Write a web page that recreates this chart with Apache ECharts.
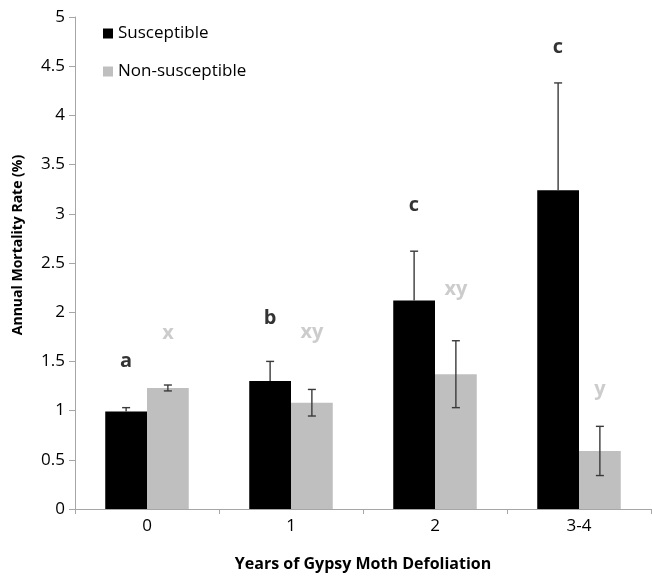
<!DOCTYPE html>
<html>
<head>
<meta charset="utf-8">
<script src="https://cdn.jsdelivr.net/npm/echarts@6/dist/echarts.min.js"></script>
<style>
html,body{margin:0;padding:0;background:#fff;}
#chart{width:652px;height:579px;}
</style>
</head>
<body>
<div id="chart"></div>
<script>
const categories = ['0', '1', '2', '3-4'];
const susceptible = [0.99, 1.30, 2.12, 3.24];
const susceptibleErr = [0.04, 0.20, 0.50, 1.09];
const nonSusceptible = [1.23, 1.08, 1.37, 0.59];
const nonSusceptibleErr = [0.03, 0.135, 0.34, 0.25];
const suscLetters = ['a', 'b', 'c', 'c'];
const suscLetterY = [1.50, 1.94, 3.09, 4.69];
const nonLetters = ['x', 'xy', 'xy', 'y'];
const nonLetterY = [1.79, 1.80, 2.23, 1.22];

const FONT = 'Open Sans';
const BAR_OFFSET = 0.145; // fraction of band width from category centre to bar centre

function errorItem(sign, onlyUp) {
  return function (params, api) {
    const idx = api.value(0);
    const val = api.value(1);
    const err = api.value(2);
    const band = api.size([1, 0])[0];
    const c = api.coord([idx, val]);
    const x = c[0] + sign * band * BAR_OFFSET;
    const top = api.coord([idx, val + err])[1];
    const bot = onlyUp ? c[1] : api.coord([idx, val - err])[1];
    const cap = 4;
    const st = { stroke: '#3a3a3a', lineWidth: 1.4 };
    const children = [
      { type: 'line', shape: { x1: x, y1: top, x2: x, y2: bot }, style: st },
      { type: 'line', shape: { x1: x - cap, y1: top, x2: x + cap, y2: top }, style: st }
    ];
    if (!onlyUp) children.push({ type: 'line', shape: { x1: x - cap, y1: bot, x2: x + cap, y2: bot }, style: st });
    return { type: 'group', children: children };
  };
}

const chart = echarts.init(document.getElementById('chart'), null, { renderer: 'canvas' });
chart.setOption({
  animation: false,
  backgroundColor: '#ffffff',
  textStyle: { fontFamily: FONT },
  grid: { left: 75, right: 1, top: 17, bottom: 70, containLabel: false, outerBoundsMode: 'none' },
  legend: {
    orient: 'vertical',
    left: 98,
    top: 20,
    itemWidth: 10,
    itemHeight: 10,
    itemGap: 21,
    icon: 'rect',
    textStyle: { fontFamily: FONT, fontSize: 17, color: '#000' },
    data: ['Susceptible', 'Non-susceptible']
  },
  xAxis: {
    type: 'category',
    data: categories,
    name: 'Years of Gypsy Moth Defoliation',
    nameLocation: 'middle',
    nameGap: 47,
    nameTextStyle: { fontFamily: FONT, fontSize: 16, fontWeight: 'bold', color: '#000' },
    axisLine: { lineStyle: { color: '#a6a6a6', width: 1 } },
    axisTick: { show: true, alignWithLabel: false, length: 5, lineStyle: { color: '#a6a6a6' } },
    axisLabel: { fontFamily: FONT, fontSize: 17, color: '#000', margin: 9 },
    splitLine: { show: false }
  },
  yAxis: {
    type: 'value',
    min: 0,
    max: 5,
    interval: 0.5,
    name: 'Annual Mortality Rate (%)',
    nameLocation: 'middle',
    nameGap: 50,
    nameRotate: 90,
    nameTextStyle: { fontFamily: FONT, fontSize: 14, fontWeight: 'bold', color: '#000', padding: [0, 0, 0, 36] },
    axisLine: { show: true, lineStyle: { color: '#a6a6a6', width: 1 } },
    axisTick: { show: true, length: 6, lineStyle: { color: '#a6a6a6' } },
    axisLabel: { fontFamily: FONT, fontSize: 17, color: '#000', margin: 10 },
    splitLine: { show: false }
  },
  series: [
    {
      name: 'Susceptible',
      type: 'bar',
      data: susceptible,
      barGap: '0%',
      barCategoryGap: '42%',
      itemStyle: { color: '#000000' }
    },
    {
      name: 'Non-susceptible',
      type: 'bar',
      data: nonSusceptible,
      barGap: '0%',
      barCategoryGap: '42%',
      itemStyle: { color: '#bfbfbf' }
    },
    {
      type: 'custom',
      renderItem: errorItem(-1, true),
      data: susceptible.map((v, i) => [i, v, susceptibleErr[i]]),
      z: 5,
      silent: true
    },
    {
      type: 'custom',
      renderItem: errorItem(1, false),
      data: nonSusceptible.map((v, i) => [i, v, nonSusceptibleErr[i]]),
      z: 5,
      silent: true
    },
    {
      type: 'scatter',
      symbolSize: 0,
      data: suscLetterY.map((v, i) => [i, v, suscLetters[i]]),
      label: {
        show: true,
        position: 'inside',
        offset: [-21, 0],
        formatter: p => p.value[2],
        fontFamily: FONT, fontSize: 20, fontWeight: 'bold', color: '#000'
      },
      silent: true
    },
    {
      type: 'scatter',
      symbolSize: 0,
      data: nonLetterY.map((v, i) => [i, v, nonLetters[i]]),
      label: {
        show: true,
        position: 'inside',
        offset: [21, 0],
        formatter: p => p.value[2],
        fontFamily: FONT, fontSize: 20, fontWeight: 'bold', color: '#bfbfbf'
      },
      silent: true
    }
  ]
});
</script>
</body>
</html>
